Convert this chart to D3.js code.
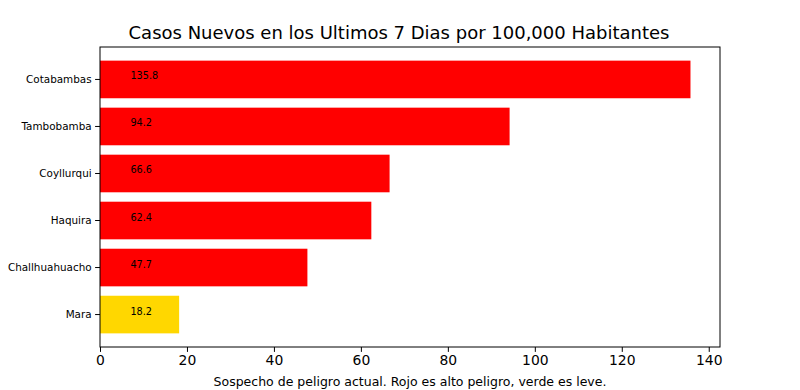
<!DOCTYPE html>
<html>
<head>
<meta charset="utf-8">
<script src="https://cdn.jsdelivr.net/npm/d3@7"></script>
<style>
  body { margin: 0; background: #fff; }
  svg text { font-family: "DejaVu Sans", sans-serif; fill: #000; }
  .axis path, .axis line { stroke: #000; stroke-width: 1; }
</style>
</head>
<body>
<div id="chart"></div>
<script>
// data, bottom to top
const districts = ["Mara", "Challhuahuacho", "Haquira", "Coyllurqui", "Tambobamba", "Cotabambas"]
const cases = [18.2, 47.7, 62.4, 66.6, 94.2, 135.8]
const barColors = ["#ffd700", "#ff0000", "#ff0000", "#ff0000", "#ff0000", "#ff0000"]
const xTicks = [0, 20, 40, 60, 80, 100, 120, 140]
const title = "Casos Nuevos en los Ultimos 7 Dias por 100,000 Habitantes"
const xLabel = "Sospecho de peligro actual. Rojo es alto peligro, verde es leve."

const margin = { top: 47, right: 80, bottom: 43, left: 100 }
const width = 800 - margin.left - margin.right
const height = 390 - margin.top - margin.bottom

const svg = d3
  .select("#chart")
  .append("svg")
  .attr("width", 800)
  .attr("height", 390)

const g = svg
  .append("g")
  .attr("transform", "translate(" + margin.left + "," + margin.top + ")")

const xScale = d3
  .scaleLinear()
  .domain([0, d3.max(cases) * 1.05])
  .range([0, width])

const yScale = d3
  .scaleBand()
  .domain(districts.slice().reverse())
  .range([0, height])
  .paddingInner(0.2)
  .paddingOuter(0.29)

g.selectAll("rect.bar")
  .data(districts)
  .enter()
  .append("rect")
  .attr("class", "bar")
  .attr("x", xScale(0))
  .attr("y", d => yScale(d))
  .attr("width", (d, i) => xScale(cases[i]) - xScale(0))
  .attr("height", yScale.bandwidth())
  .attr("fill", (d, i) => barColors[i])

// value labels sit at x=7, baseline on bar centre
g.selectAll("text.val")
  .data(districts)
  .enter()
  .append("text")
  .attr("class", "val")
  .attr("x", xScale(7))
  .attr("y", d => yScale(d) + yScale.bandwidth() / 2)
  .style("font-size", "9.7px")
  .text((d, i) => cases[i].toFixed(1))

const xAxis = g
  .append("g")
  .attr("class", "x axis")
  .attr("transform", "translate(0," + height + ")")
  .call(d3.axisBottom(xScale).tickValues(xTicks).tickSize(4.9).tickPadding(3.5))
xAxis.select(".domain").remove()
xAxis.selectAll("text").style("font-size", "13.9px")

const yAxis = g
  .append("g")
  .attr("class", "y axis")
  .call(d3.axisLeft(yScale).tickSize(4.9).tickPadding(3.5))
yAxis.select(".domain").remove()
yAxis.selectAll("text").style("font-size", "10.4px")

// frame
g.append("rect")
  .attr("width", width)
  .attr("height", height)
  .attr("fill", "none")
  .attr("stroke", "#000")
  .attr("stroke-width", 1)

svg
  .append("text")
  .attr("x", 399)
  .attr("y", 39)
  .attr("text-anchor", "middle")
  .style("font-size", "18px")
  .text(title)

svg
  .append("text")
  .attr("x", margin.left + width / 2)
  .attr("y", 386)
  .attr("text-anchor", "middle")
  .style("font-size", "12.5px")
  .text(xLabel)
</script>
</body>
</html>
